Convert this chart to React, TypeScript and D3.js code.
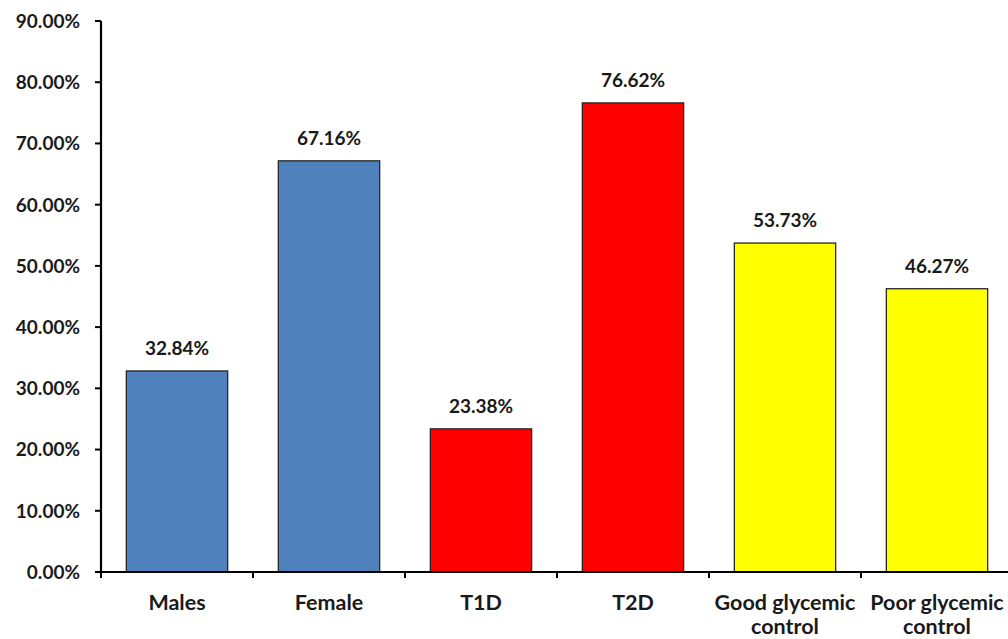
import React from "react";
import * as d3 from "d3";

const categories = ["Males", "Female", "T1D", "T2D", "Good glycemic control", "Poor glycemic control"];
const labelLines = [["Males"], ["Female"], ["T1D"], ["T2D"], ["Good glycemic", "control"], ["Poor glycemic", "control"]];
const values = [32.84, 67.16, 23.38, 76.62, 53.73, 46.27];
const barColors = ["#4F81BD", "#4F81BD", "#FF0000", "#FF0000", "#FFFF00", "#FFFF00"];
const yTicks = [0, 10, 20, 30, 40, 50, 60, 70, 80, 90];

const W = 1008;
const H = 639;
const left = 101;
const right = 1013;
const top = 21;
const bottom = 572;
const FONT = "Lato, 'Open Sans', sans-serif";

export default function App() {
  const x = d3.scaleBand<string>().domain(categories).range([left, right]).paddingInner(1 / 3).paddingOuter(1 / 6);
  const y = d3.scaleLinear().domain([0, 90]).range([bottom, top]);
  const step = x.step();

  return (
    <svg width={W} height={H} style={{ position: "absolute", left: 0, top: 0, background: "#fff" }}>
      {categories.map((c, i) => (
        <g key={c}>
          <rect
            x={x(c)}
            y={y(values[i])}
            width={x.bandwidth()}
            height={bottom - y(values[i])}
            fill={barColors[i]}
            stroke="#262626"
            strokeWidth={1.3}
          />
          <text
            x={(x(c) as number) + x.bandwidth() / 2}
            y={y(values[i]) - 16}
            textAnchor="middle"
            fontFamily={FONT}
            fontWeight="bold"
            fontSize={19}
            fill="#1a1a1a"
          >
            {values[i].toFixed(2)}%
          </text>
          {labelLines[i].map((ln, j) => (
            <text
              key={j}
              x={(x(c) as number) + x.bandwidth() / 2}
              y={610 + j * 24}
              textAnchor="middle"
              fontFamily={FONT}
              fontWeight="bold"
              fontSize={21.5}
              fill="#1a1a1a"
            >
              {ln}
            </text>
          ))}
        </g>
      ))}
      {/* y axis */}
      <line x1={left} x2={left} y1={top} y2={bottom} stroke="#000" strokeWidth={2.2} />
      {yTicks.map((t) => (
        <g key={t}>
          <line x1={left - 6} x2={left} y1={y(t)} y2={y(t)} stroke="#000" strokeWidth={2} />
          <text
            x={80}
            y={y(t)}
            dy="0.36em"
            textAnchor="end"
            fontFamily={FONT}
            fontWeight="bold"
            fontSize={19}
            fill="#1a1a1a"
          >
            {t.toFixed(2)}%
          </text>
        </g>
      ))}
      {/* x axis */}
      <line x1={left - 6} x2={right} y1={bottom} y2={bottom} stroke="#000" strokeWidth={2.2} />
      {categories.map((c, i) => (
        <line
          key={c}
          x1={left + step * i}
          x2={left + step * i}
          y1={bottom}
          y2={bottom + 6}
          stroke="#000"
          strokeWidth={2}
        />
      ))}
    </svg>
  );
}
